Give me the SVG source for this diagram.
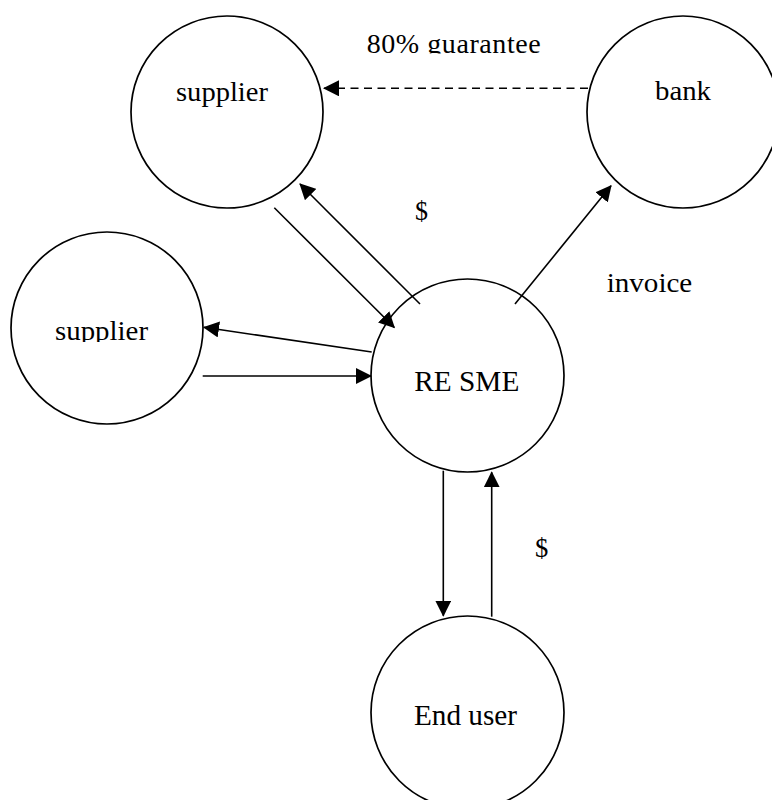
<svg xmlns="http://www.w3.org/2000/svg" width="772" height="800" viewBox="0 0 772 800">
  <style>
    .node circle { fill: #ffffff; stroke: #000000; stroke-width: 1.7; }
    .lbl { font-family: "Liberation Serif", "Times New Roman", serif; font-size: 28px; fill: #000000; }
    .big { font-size: 30px; }
    .edge { stroke: #000000; stroke-width: 1.6; fill: none; marker-end: url(#arrow); }
    .dash { stroke-dasharray: 8 5.5; }
  </style>
  <defs>
    <marker id="arrow" viewBox="0 0 16 16" refX="15" refY="8" markerWidth="16" markerHeight="16" markerUnits="userSpaceOnUse" orient="auto">
      <path d="M0,0 L16,8 L0,16 Z" fill="#000000"/>
    </marker>
    <clipPath id="clipTop"><rect x="0" y="0" width="772" height="53.5"/></clipPath>
    <clipPath id="clipLeft"><rect x="0" y="0" width="772" height="342"/></clipPath>
  </defs>
  <rect x="0" y="0" width="772" height="800" fill="#ffffff"/>

  <g id="supplier-top" class="node">
    <circle cx="227" cy="112" r="96"/>
    <text class="lbl" x="176" y="100.5" textLength="92" lengthAdjust="spacingAndGlyphs">supplier</text>
  </g>
  <g id="bank" class="node">
    <circle cx="683" cy="112" r="96"/>
    <text class="lbl" x="655" y="100" textLength="56" lengthAdjust="spacingAndGlyphs">bank</text>
  </g>
  <g id="supplier-left" class="node">
    <circle cx="107" cy="328" r="96"/>
    <text class="lbl" x="55" y="339.5" textLength="93" lengthAdjust="spacingAndGlyphs" clip-path="url(#clipLeft)">supplier</text>
  </g>
  <g id="re-sme" class="node">
    <circle cx="467.5" cy="375.5" r="96.5"/>
    <text class="lbl big" x="414.3" y="390.5" textLength="105" lengthAdjust="spacingAndGlyphs">RE SME</text>
  </g>
  <g id="end-user" class="node">
    <circle cx="467.5" cy="712.5" r="96.5"/>
    <text class="lbl big" x="414" y="725" textLength="103" lengthAdjust="spacingAndGlyphs">End user</text>
  </g>

  <g id="connectors">
    <line class="edge dash" x1="588" y1="88.3" x2="324" y2="88.3"/>
    <line class="edge" x1="274.3" y1="207.7" x2="394.3" y2="327.5"/>
    <line class="edge" x1="420" y1="304" x2="300" y2="184"/>
    <line class="edge" x1="515" y1="304" x2="611" y2="185.7"/>
    <line class="edge" x1="371.7" y1="352" x2="204" y2="327.3"/>
    <line class="edge" x1="202.7" y1="376" x2="371" y2="376"/>
    <line class="edge" x1="443.3" y1="470.7" x2="443.3" y2="615.7"/>
    <line class="edge" x1="491.7" y1="616.7" x2="491.7" y2="472.3"/>
  </g>

  <g id="labels">
    <text class="lbl" x="366.7" y="52.7" textLength="174" lengthAdjust="spacing" clip-path="url(#clipTop)">80% guarantee</text>
    <text class="lbl" x="415" y="220" textLength="13" lengthAdjust="spacingAndGlyphs">$</text>
    <text class="lbl" x="606.7" y="292" textLength="85.6" lengthAdjust="spacingAndGlyphs">invoice</text>
    <text class="lbl" x="535" y="556.7" textLength="13.3" lengthAdjust="spacingAndGlyphs">$</text>
  </g>
</svg>
